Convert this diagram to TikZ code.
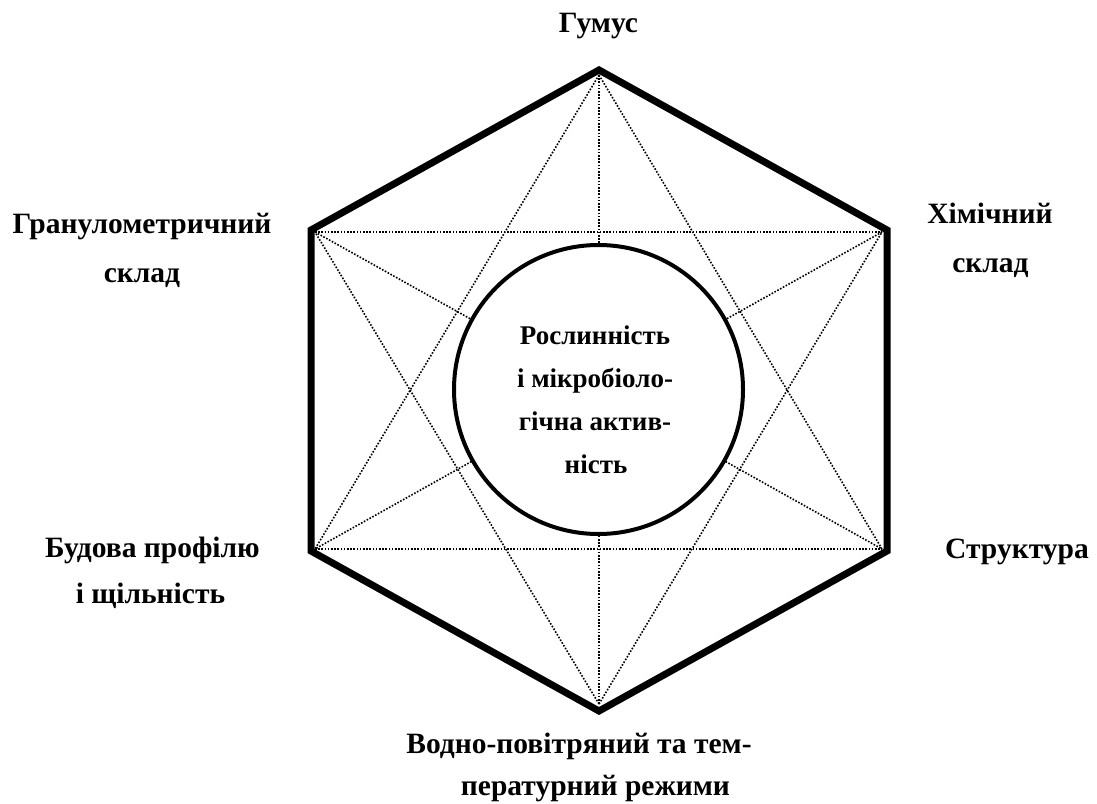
\documentclass[tikz,border=0pt]{standalone}
\usepackage{fontspec}
\setmainfont{Liberation Serif}
\begin{document}
\begin{tikzpicture}[x=1pt,y=-1pt,
  hexline/.style={line width=7pt,line join=miter},
  dotline/.style={line width=1.6pt,dash pattern=on 1.6pt off 1.6pt},
  ring/.style={circle,draw,line width=4pt,fill=white,minimum size=289pt,inner sep=0pt},
  lbl/.style={anchor=base,inner sep=0pt,font=\fontsize{29.5}{34}\selectfont\bfseries},
  clbl/.style={anchor=base,inner sep=0pt,font=\fontsize{27}{32}\selectfont\bfseries}]
\useasboundingbox (0,0) rectangle (1097,803);
% hexagon corners (stroke centre)
\coordinate (T) at (599,70);
\coordinate (UL) at (311,230);
\coordinate (UR) at (887,230);
\coordinate (LR) at (887,551);
\coordinate (B) at (599,711);
\coordinate (LL) at (311,551);
% inner corners where dotted lines meet
\coordinate (t) at (599,75);
\coordinate (ul) at (315,232);
\coordinate (ur) at (882,232);
\coordinate (lr) at (882,549);
\coordinate (b) at (599,704);
\coordinate (ll) at (315,549);
% dotted lines
\draw[dotline] (ul) -- (ur);
\draw[dotline] (ll) -- (lr);
\draw[dotline] (t) -- (b);
\draw[dotline] (t) -- (ll);
\draw[dotline] (t) -- (lr);
\draw[dotline] (b) -- (ul);
\draw[dotline] (b) -- (ur);
\draw[dotline] (ul) -- (lr);
\draw[dotline] (ur) -- (ll);
% hexagon
\draw[hexline] (T) -- (UR) -- (LR) -- (B) -- (LL) -- (UL) -- cycle;
% circle
\node[ring] (core) at (598.5,389.5) {};
\node[clbl] (c1) at (595,344) {Рослинність};
\node[clbl] (c2) at (595,387) {і мікробіоло-};
\node[clbl] (c3) at (595,430) {гічна актив-};
\node[clbl] (c4) at (596,473) {ність};
% labels
\node[lbl] (hum) at (598.5,32) {Гумус};
\node[lbl] (gr1) at (142,233) {Гранулометричний};
\node[lbl] (gr2) at (142,282) {склад};
\node[lbl] (ch1) at (990,223) {Хімічний};
\node[lbl] (ch2) at (990.5,272) {склад};
\node[lbl] (bu1) at (152.5,557) {Будова профілю};
\node[lbl] (bu2) at (150.5,603) {і щільність};
\node[lbl] (st) at (1017,558) {Структура};
\node[lbl] (wa1) at (579,753) {Водно-повітряний та тем-};
\node[lbl] (wa2) at (595.5,795) {пературний режими};
\end{tikzpicture}
\end{document}
